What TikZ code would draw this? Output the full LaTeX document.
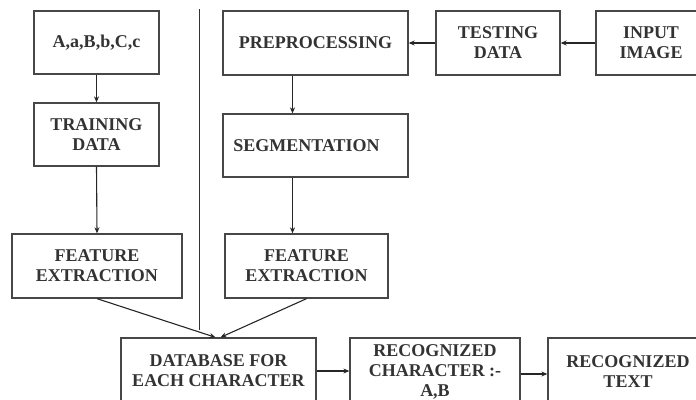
\documentclass[tikz,border=0pt]{standalone}
\usepackage{fontspec}
\setmainfont{Liberation Serif}
\usetikzlibrary{arrows.meta}
\tikzset{
  ocrbox/.style={draw=black!72, line width=1.3pt, fill=white, align=center, inner sep=0pt,
    font=\fontsize{18}{20}\selectfont\bfseries, text=black!80},
  ocrflow/.style={line width=1.1pt, draw=black!85, -{Stealth[length=6pt,width=5pt]}},
  ocrrule/.style={line width=1.2pt, draw=black!80},
}

\begin{document}
\begin{tikzpicture}[x=1pt, y=-1pt]
\useasboundingbox (0,0) rectangle (696,399);
\clip (0,0) rectangle (696,399);

% training side
\node[ocrbox, minimum width=125pt, minimum height=63pt] (chars) at (96.5,42.5) {A,a,B,b,C,c};
\node[ocrbox, minimum width=125pt, minimum height=63pt] (train) at (96.5,134.5) {TRAINING\\DATA};
\node[ocrbox, minimum width=170pt, minimum height=64pt] (featL) at (97,266) {FEATURE\\EXTRACTION};

% testing side
\node[ocrbox, minimum width=185pt, minimum height=64pt] (prep) at (315.5,43) {PREPROCESSING};
\node[ocrbox, minimum width=124pt, minimum height=64pt] (test) at (498,43) {TESTING\\DATA};
\node[ocrbox, minimum width=110pt, minimum height=64pt] (input) at (651,43) {INPUT\\IMAGE};
\node[ocrbox, minimum width=185pt, minimum height=63pt] (segm) at (315.5,145.5) {SEGMENTATION\hspace*{18pt}};
\node[ocrbox, minimum width=163pt, minimum height=64pt] (featR) at (306.5,266) {FEATURE\\EXTRACTION};

% bottom row
\node[ocrbox, minimum width=195pt, minimum height=66pt] (dbase) at (218.5,371) {DATABASE FOR\\EACH CHARACTER};
\node[ocrbox, minimum width=170pt, minimum height=68pt] (recch) at (435,372) {RECOGNIZED\\CHARACTER :-\\A,B};
\node[ocrbox, minimum width=160pt, minimum height=68pt] (rectx) at (628,372) {RECOGNIZED\\TEXT};

% divider
\coordinate (divtop) at (199.5,9);
\coordinate (divbot) at (199.5,330);
\draw[ocrrule] (divtop) -- (divbot);

% flow
\draw[ocrflow] (chars.south) -- (train.north);
\draw[ocrflow] (train.south) -- (featL.north);
\draw[ocrflow] (input.west) -- (test.east);
\draw[ocrflow] (test.west) -- (prep.east);
\draw[ocrflow] ([xshift=-23pt]prep.south) -- ([xshift=-23pt]segm.north);
\draw[ocrflow] ([xshift=-23pt]segm.south) -- ([xshift=-23pt]segm.south |- featR.north);
\draw[ocrflow] (featL.south) -- ([xshift=-3pt]dbase.north);
\draw[ocrflow] (featR.south) -- ([xshift=2pt]dbase.north);
\draw[ocrflow] (dbase.east) -- (dbase.east -| recch.west);
\draw[ocrflow] ([yshift=-2pt]recch.east) -- ([yshift=-2pt]recch.east -| rectx.west);
\end{tikzpicture}
\end{document}
